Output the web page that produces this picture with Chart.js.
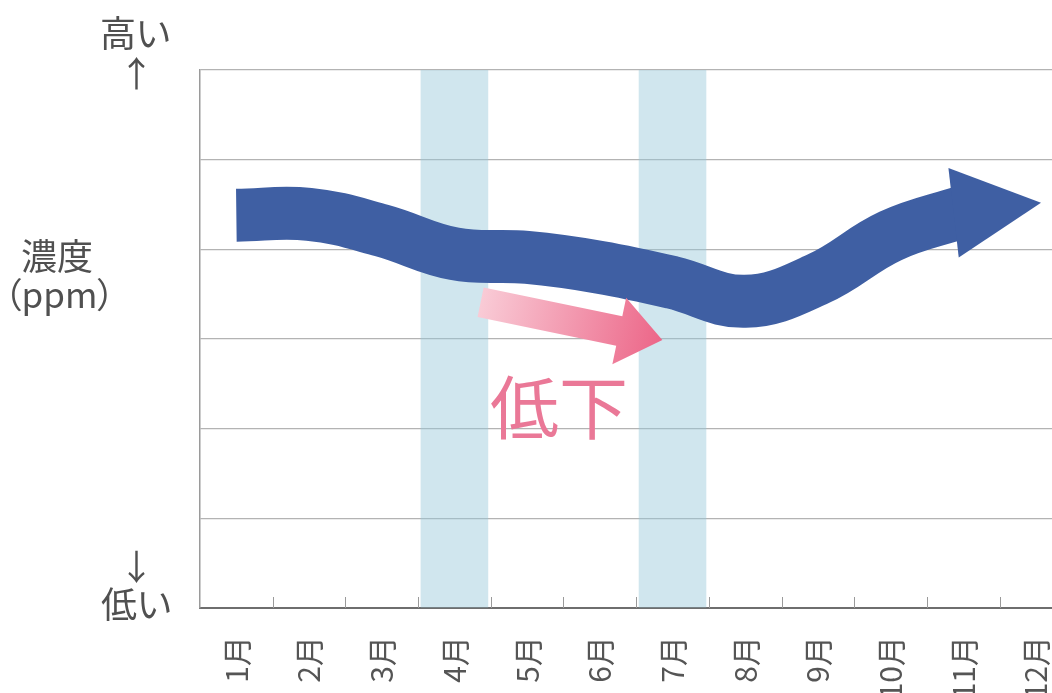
<!DOCTYPE html>
<html lang="ja">
<head>
<meta charset="utf-8">
<script src="https://cdn.jsdelivr.net/npm/chart.js@4"></script>
<style>
  html, body { margin: 0; padding: 0; background: #fff; overflow: hidden; }
  body { width: 1052px; height: 693px; position: relative; font-family: "Noto Sans CJK JP", sans-serif; color: #505050; }
  #wrap { position: absolute; left: 0; top: 0; width: 1092px; height: 720px; }
  .lbl { position: absolute; white-space: nowrap; line-height: 1; font-feature-settings: "palt"; }
</style>
</head>
<body>
<div id="wrap"><canvas id="chart" width="1092" height="720"></canvas></div>

<div class="lbl" style="left:100px; top:13px; font-size:36px;">高い</div>
<div class="lbl" style="left:119px; top:54px; font-size:35px;">↑</div>
<div class="lbl" style="left:21px; top:236px; font-size:36px;">濃度</div>
<div class="lbl" style="left:4px; top:275px; font-size:35px;">（ppm）</div>
<div class="lbl" style="left:119px; top:547px; font-size:35px;">↓</div>
<div class="lbl" style="left:101px; top:584px; font-size:36px;">低い</div>
<div class="lbl" style="left:490px; top:370px; font-size:69px; color:#ea7897;">低下</div>

<script>
const months = ["1月", "2月", "3月", "4月", "5月", "6月", "7月", "8月", "9月", "10月", "11月", "12月"];
// relative concentration, 0 = 低い, 6 = 高い (no units on the picture)
const concentration = [4.38, 4.39, 4.21, 3.95, 3.91, 3.8, 3.63, 3.42, 3.67, 4.15, 4.42, null];
const arrowTip = 4.52; // where the blue arrow points at 12月
const highlight = [null, null, null, 6, null, null, 6, null, null, null, null, null];
// pink "低下" arrow, [category index, value]
const dropFrom = [3.36, 3.41];
const dropTo = [5.86, 2.99];

const arrows = {
  id: "arrows",
  afterDatasetsDraw(chart) {
    const ctx = chart.ctx;
    const xs = chart.scales.x, ys = chart.scales.y;

    // blue arrow head at the end of the line
    const pts = chart.getDatasetMeta(1).data.filter((p) => !p.skip);
    const last = pts[pts.length - 1];
    const tx = xs.getPixelForValue(months.length - 1) + 5;
    const ty = ys.getPixelForValue(arrowTip);
    let dx = tx - last.x, dy = ty - last.y;
    let len = Math.hypot(dx, dy);
    let ux = dx / len, uy = dy / len;
    let bx = tx - ux * 88, by = ty - uy * 88;
    ctx.save();
    ctx.fillStyle = "#3f5fa3";
    ctx.beginPath();
    ctx.moveTo(tx, ty);
    ctx.lineTo(bx - uy * 45, by + ux * 45);
    ctx.lineTo(bx + uy * 45, by - ux * 45);
    ctx.closePath();
    ctx.fill();

    // pink arrow
    const sx = xs.getPixelForValue(dropFrom[0]), sy = ys.getPixelForValue(dropFrom[1]);
    const ex = xs.getPixelForValue(dropTo[0]), ey = ys.getPixelForValue(dropTo[1]);
    dx = ex - sx; dy = ey - sy;
    len = Math.hypot(dx, dy);
    ux = dx / len; uy = dy / len;
    const hl = 44, hw = 34, sw = 15;
    bx = ex - ux * hl; by = ey - uy * hl;
    const grad = ctx.createLinearGradient(sx, sy, ex, ey);
    grad.addColorStop(0, "#f9cbd6");
    grad.addColorStop(1, "#ec6688");
    ctx.fillStyle = grad;
    ctx.beginPath();
    ctx.moveTo(sx - uy * sw, sy + ux * sw);
    ctx.lineTo(bx - uy * sw, by + ux * sw);
    ctx.lineTo(bx - uy * hw, by + ux * hw);
    ctx.lineTo(ex, ey);
    ctx.lineTo(bx + uy * hw, by - ux * hw);
    ctx.lineTo(bx + uy * sw, by - ux * sw);
    ctx.lineTo(sx + uy * sw, sy - ux * sw);
    ctx.closePath();
    ctx.fill();
    ctx.restore();
  },
  afterDraw(chart) {
    // small ticks between months, pointing into the plot
    const ctx = chart.ctx, xs = chart.scales.x;
    const bottom = chart.chartArea.bottom;
    ctx.save();
    ctx.strokeStyle = "#9a9a9a";
    ctx.lineWidth = 1;
    for (let i = 0; i < months.length - 1; i++) {
      const x = Math.round((xs.getPixelForValue(i) + xs.getPixelForValue(i + 1)) / 2) + 0.5;
      ctx.beginPath();
      ctx.moveTo(x, bottom - 11);
      ctx.lineTo(x, bottom);
      ctx.stroke();
    }
    ctx.restore();
  },
};

new Chart(document.getElementById("chart").getContext("2d"), {
  data: {
    labels: months,
    datasets: [
      {
        type: "bar",
        data: highlight,
        backgroundColor: "rgba(150, 200, 218, 0.45)",
        categoryPercentage: 1,
        barPercentage: 0.93,
        order: 2,
      },
      {
        type: "line",
        data: concentration,
        borderColor: "#3f5fa3",
        borderWidth: 53,
        borderCapStyle: "butt",
        tension: 0.4,
        pointRadius: 0,
        fill: false,
        order: 1,
      },
    ],
  },
  options: {
    responsive: false,
    animation: false,
    events: [],
    layout: { padding: { left: 200, top: 70, right: 0, bottom: 0 } },
    plugins: { legend: { display: false }, tooltip: { enabled: false } },
    scales: {
      x: {
        grid: { display: false },
        border: { display: true, color: "#6e6e6e", width: 2 },
        ticks: {
          autoSkip: false,
          maxRotation: 90,
          minRotation: 90,
          padding: 20,
          color: "#555",
          font: { family: "Noto Sans CJK JP", size: 30 },
        },
        afterFit: (scale) => { scale.height = 112; },
      },
      y: {
        min: 0,
        max: 6,
        ticks: { display: false, stepSize: 1 },
        grid: { color: "#b3b3b3", lineWidth: 1.2, drawTicks: false },
        border: { display: true, color: "#9a9a9a", width: 1.5 },
        afterFit: (scale) => { scale.width = 0; },
      },
    },
  },
  plugins: [arrows],
});
</script>
</body>
</html>
